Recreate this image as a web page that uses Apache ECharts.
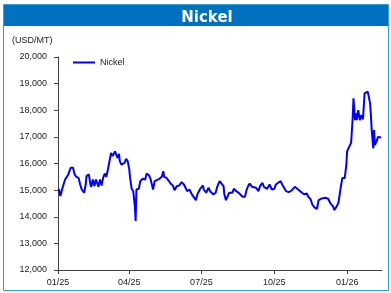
<!DOCTYPE html>
<html>
<head>
<meta charset="utf-8">
<script src="https://cdn.jsdelivr.net/npm/echarts@6/dist/echarts.min.js"></script>
<style>
  html, body { margin: 0; padding: 0; background: #fff; }
  #chart { width: 391px; height: 293px; }
</style>
</head>
<body>
<div id="chart"></div>
<script>
// nickel price, USD/MT
var dates = [
	'2025-01-02','2025-01-04','2025-01-06','2025-01-07','2025-01-10','2025-01-14','2025-01-17','2025-01-20',
	'2025-01-22','2025-01-24','2025-01-27','2025-01-29','2025-01-31','2025-02-03','2025-02-05','2025-02-06',
	'2025-02-09','2025-02-11','2025-02-12','2025-02-14','2025-02-16','2025-02-18','2025-02-21','2025-02-23',
	'2025-02-25','2025-02-27','2025-03-01','2025-03-03','2025-03-05','2025-03-07','2025-03-09','2025-03-11',
	'2025-03-14','2025-03-16','2025-03-17','2025-03-19','2025-03-20','2025-03-22','2025-03-24','2025-03-26',
	'2025-03-28','2025-03-30','2025-04-01','2025-04-02','2025-04-04','2025-04-06','2025-04-08','2025-04-09',
	'2025-04-10','2025-04-13','2025-04-15','2025-04-18','2025-04-21','2025-04-23','2025-04-26','2025-04-28',
	'2025-04-30','2025-05-01','2025-05-03','2025-05-05','2025-05-09','2025-05-12','2025-05-14','2025-05-15',
	'2025-05-18','2025-05-21','2025-05-23','2025-05-26','2025-05-28','2025-05-31','2025-06-03','2025-06-06',
	'2025-06-09','2025-06-11','2025-06-13','2025-06-16','2025-06-19','2025-06-21','2025-06-24','2025-06-26',
	'2025-06-29','2025-06-30','2025-07-03','2025-07-04','2025-07-07','2025-07-10','2025-07-12','2025-07-16',
	'2025-07-19','2025-07-21','2025-07-24','2025-07-26','2025-07-29','2025-07-30','2025-08-01','2025-08-03',
	'2025-08-05','2025-08-07','2025-08-09','2025-08-11','2025-08-13','2025-08-14','2025-08-17','2025-08-19',
	'2025-08-22','2025-08-25','2025-08-27','2025-08-29','2025-08-31','2025-09-03','2025-09-05','2025-09-08',
	'2025-09-11','2025-09-13','2025-09-16','2025-09-18','2025-09-20','2025-09-22','2025-09-25','2025-09-26',
	'2025-09-28','2025-10-01','2025-10-03','2025-10-06','2025-10-09','2025-10-11','2025-10-13','2025-10-16',
	'2025-10-19','2025-10-22','2025-10-24','2025-10-27','2025-10-30','2025-11-01','2025-11-05','2025-11-08',
	'2025-11-11','2025-11-13','2025-11-16','2025-11-18','2025-11-21','2025-11-24','2025-11-26','2025-11-29',
	'2025-12-02','2025-12-05','2025-12-08','2025-12-11','2025-12-14','2025-12-16','2025-12-18','2025-12-19',
	'2025-12-21','2025-12-23','2025-12-24','2025-12-26','2025-12-29','2025-12-31','2026-01-01','2026-01-04',
	'2026-01-06','2026-01-07','2026-01-08','2026-01-09','2026-01-10','2026-01-11','2026-01-12','2026-01-13',
	'2026-01-15','2026-01-17','2026-01-19','2026-01-21','2026-01-23','2026-01-25','2026-01-27','2026-01-28',
	'2026-01-30','2026-01-31','2026-02-01','2026-02-03','2026-02-04','2026-02-05','2026-02-07','2026-02-09',
	'2026-02-11','2026-02-13'
];
var nickel = [
	15050,14780,14780,15120,15400,15590,15840,15840,
	15590,15500,15460,15210,15025,14900,15210,15525,
	15590,15210,15125,15400,15150,15400,15125,15400,
	15175,15460,15625,15500,15775,16090,16400,16275,
	16460,16425,16210,16360,16090,15960,15900,16025,
	16175,16090,15775,15460,15050,14960,14400,13840,
	15025,15050,15340,15425,15400,15625,15550,15400,
	15340,15025,15340,15400,15425,15500,15710,15500,
	15460,15340,15250,15175,15000,15150,15175,15300,
	15210,15090,14960,15025,14840,14780,14625,14840,
	15025,15025,15175,15025,14900,15090,14960,14840,
	14900,15125,15340,15340,15150,14840,14625,14675,
	14900,14960,14900,15050,15125,14960,14900,14875,
	14750,14750,15000,15150,15250,15125,15090,15090,
	14960,15150,15275,15125,15175,15050,15210,15275,
	15025,15050,15210,15275,15340,15210,15150,14960,
	14925,14960,15025,15125,15050,15025,14900,14840,
	14875,14750,14650,14460,14340,14300,14625,14675,
	14700,14710,14675,14500,14400,14250,14175,14400,
	14525,14590,15125,15460,15460,15960,16460,16650,
	16775,16800,17700,18450,18510,17630,17880,17630,
	18000,17630,17820,17660,18630,18570,18700,18760,
	18260,17820,17260,16570,17260,16690,16820,17000,
	16950,16980
];
var tickDates = ['2025-01-01','2025-04-01','2025-07-01','2025-10-01','2026-01-01'];
var firstDay = '2025-01-01';
var lastDay = '2026-02-14';

function toTime(d) {
	return new Date(d + 'T00:00:00').getTime();
}

var tickValues = tickDates.map(toTime);
var seriesData = dates.map(function(d, i) {
	return [toTime(d), nickel[i]];
});

var chart = echarts.init(document.getElementById('chart'), null, { renderer: 'canvas' });
var font = "'Liberation Sans', Arial, sans-serif";

var option = {
	animation: false,
	backgroundColor: '#fff',
	graphic: [
		{
			type: 'rect',
			shape: { x: 3.5, y: 4.5, width: 385, height: 286 },
			style: { fill: 'none', stroke: '#2aa3e0', lineWidth: 1 },
			z: 0
		},
		{
			type: 'rect',
			shape: { x: 4, y: 5, width: 384, height: 21 },
			style: { fill: '#0070c0' },
			z: 0
		}
	],
	title: [
		{
			text: 'Nickel',
			left: 202,
			top: 6,
			textAlign: 'center',
			textStyle: { color: '#fff', fontFamily: "'DejaVu Sans', Verdana, sans-serif", fontWeight: 'bold', fontSize: 15 }
		},
		{
			text: '(USD/MT)',
			left: 7,
			top: 31,
			textStyle: { color: '#222', fontFamily: font, fontWeight: 'normal', fontSize: 9 }
		}
	],
	legend: {
		left: 73,
		top: 58,
		padding: 0,
		icon: 'rect',
		itemWidth: 22,
		itemHeight: 2,
		data: ['Nickel'],
		textStyle: { color: '#222', fontFamily: font, fontSize: 9 }
	},
	grid: { left: 58, right: 9, top: 57, bottom: 23, containLabel: false },
	xAxis: {
		type: 'value',
		min: toTime(firstDay),
		max: toTime(lastDay),
		axisLine: { lineStyle: { color: '#404040', width: 1 } },
		axisTick: { show: true, length: 4, customValues: tickValues, lineStyle: { color: '#404040' } },
		axisLabel: {
			customValues: tickValues,
			color: '#222',
			fontFamily: font,
			fontSize: 9,
			margin: 8,
			formatter: function(v) {
				var d = new Date(v);
				var m = d.getMonth() + 1;
				return (m < 10 ? '0' + m : m) + '/' + String(d.getFullYear()).slice(2);
			}
		},
		splitLine: { show: false }
	},
	yAxis: {
		type: 'value',
		min: 12000,
		max: 20000,
		interval: 1000,
		axisLine: { show: true, lineStyle: { color: '#404040', width: 1 } },
		axisTick: { show: true, length: 4, lineStyle: { color: '#404040' } },
		axisLabel: {
			color: '#222',
			fontFamily: font,
			fontSize: 9,
			margin: 11,
			formatter: function(v) { return v.toLocaleString('en-US'); }
		},
		splitLine: { show: false }
	},
	series: [{
		name: 'Nickel',
		type: 'line',
		data: seriesData,
		symbol: 'none',
		lineStyle: { color: '#0000ff', width: 2 },
		itemStyle: { color: '#0000ff' }
	}]
};

chart.setOption(option);
</script>
</body>
</html>
